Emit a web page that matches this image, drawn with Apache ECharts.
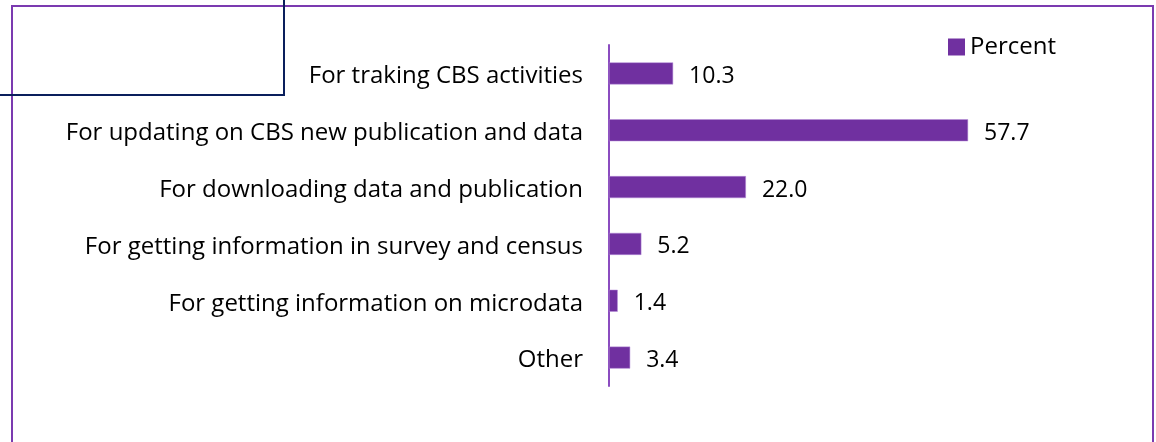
<!DOCTYPE html>
<html><head><meta charset="utf-8">
<script src="https://cdn.jsdelivr.net/npm/echarts@6/dist/echarts.min.js"></script>
<style>html,body{margin:0;padding:0;background:#fff}#c{width:1156px;height:442px}</style>
</head><body><div id="c"></div>
<script>
const categories = [
  "For traking CBS activities",
  "For updating on CBS new publication and data",
  "For downloading data and publication",
  "For getting information in survey and census",
  "For getting information on microdata",
  "Other"
];
const percentValues = [10.3, 57.7, 22.0, 5.2, 1.4, 3.4];
const seriesName = "Percent";

const chart = echarts.init(document.getElementById('c'), null, {renderer: 'canvas'});
const FONT = '"Open Sans", sans-serif';
chart.setOption({
  animation: false,
  backgroundColor: '#fff',
  grid: {left: 609, top: 45, width: 435.6, height: 341, containLabel: false},
  legend: {
    data: [seriesName], left: 943, top: 30, itemWidth: 17, itemHeight: 17, itemGap: 7,
    icon: 'rect',
    itemStyle: {borderWidth: 0},
    textStyle: {fontFamily: FONT, fontSize: 24, color: '#000'}
  },
  xAxis: {type: 'value', min: 0, max: 70, show: false},
  yAxis: {
    type: 'category', data: categories, inverse: true,
    axisLine: {show: true, lineStyle: {color: '#8B4CC0', width: 2}},
    axisTick: {show: false},
    axisLabel: {fontFamily: FONT, fontSize: 24, color: '#000', margin: 26,
      formatter: v => '{a|' + v + '}',
      rich: {a: {fontFamily: FONT, fontSize: 24, color: '#000', padding: [6, 0, 0, 0]}}}
  },
  series: [{
    name: seriesName, type: 'bar', data: percentValues, barWidth: 22,
    itemStyle: {color: '#7030A0', borderColor: '#B58BD8', borderWidth: 0.5},
    label: {show: true, position: 'right', distance: 16, offset: [0, 3], formatter: p => p.value.toFixed(1),
      fontFamily: FONT, fontSize: 23, color: '#000'}
  }],
  graphic: [
    {type: 'rect', shape: {x: 12, y: 6, width: 1141, height: 450}, style: {fill: 'none', stroke: '#7B3AB0', lineWidth: 2}, z: 100},
    {type: 'polyline', shape: {points: [[0, 95], [284, 95], [284, 0]]}, style: {fill: 'none', stroke: '#0A1F5C', lineWidth: 2}, z: 101}
  ]
});
</script></body></html>
